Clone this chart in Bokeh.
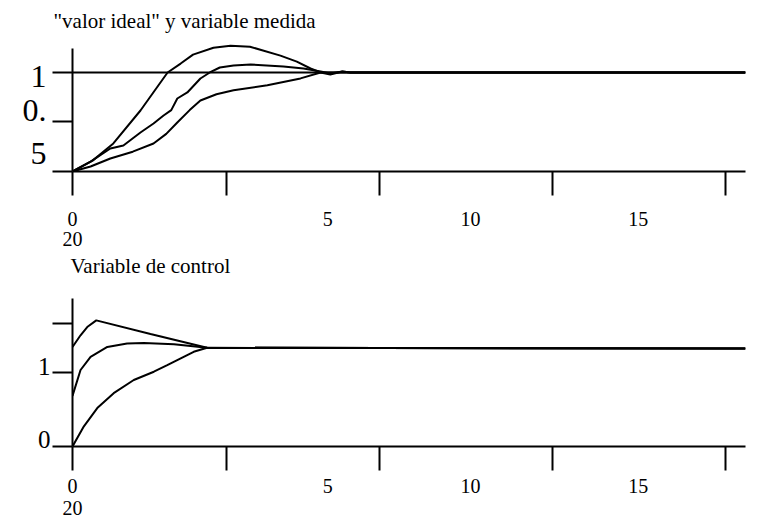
from bokeh.plotting import figure
from bokeh.layouts import column
from bokeh.models import FixedTicker, Range1d, Title
from bokeh.embed import file_html
from bokeh.resources import INLINE

FONT = "Liberation Serif"

# ---------------- data: top panel ("valor ideal" y variable medida) ----------------
ideal_t = [0, 20.1]
ideal_y = [1, 1]

meas_fast_t = [0, 0.6, 1.22, 2.03, 2.84, 3.23, 3.6, 4.21, 4.72, 5.3, 6.21, 6.7, 7.11, 7.41, 7.7, 8.06, 8.3, 20.1]
meas_fast_y = [0, 0.11, 0.283, 0.616, 1.0, 1.09, 1.18, 1.25, 1.27, 1.26, 1.17, 1.11, 1.04, 1.0, 0.98, 1.01, 1.0, 1.0]

meas_mid_t = [0, 0.54, 1.13, 1.52, 2.03, 2.42, 2.72, 2.95, 3.13, 3.43, 3.82, 4.1, 4.4, 4.81, 5.32, 6.3, 6.9, 7.41, 7.7, 8.06, 8.3, 20.1]
meas_mid_y = [0, 0.1, 0.232, 0.263, 0.394, 0.485, 0.566, 0.62, 0.737, 0.798, 0.939, 1.0, 1.05, 1.07, 1.08, 1.06, 1.04, 1.01, 0.99, 1.01, 1.0, 1.0]

meas_slow_t = [0, 0.54, 1.13, 1.8, 2.42, 2.8, 3.13, 3.5, 3.82, 4.3, 4.81, 5.82, 6.81, 7.41, 20.1]
meas_slow_y = [0, 0.05, 0.131, 0.2, 0.283, 0.38, 0.495, 0.62, 0.717, 0.78, 0.82, 0.87, 0.94, 1.0, 1.0]

top_ticks_y = [0, 0.5, 1]
top_label_pos_y = [0.407, 0.96]
top_labels_y = ["0.\n5", "1"]

# ---------------- data: bottom panel (Variable de control) ----------------
ctrl_fast_t = [0, 0.24, 0.44, 0.71, 2.33, 4.02, 20.1]
ctrl_fast_y = [1.337, 1.493, 1.604, 1.693, 1.51, 1.325, 1.315]

ctrl_mid_t = [0, 0.24, 0.54, 1.04, 1.63, 2.13, 3.03, 4.02, 20.1]
ctrl_mid_y = [0.68, 1.027, 1.204, 1.337, 1.383, 1.391, 1.373, 1.325, 1.315]

ctrl_slow_t = [0, 0.34, 0.74, 1.23, 1.83, 2.43, 2.83, 3.62, 4.02, 20.1]
ctrl_slow_y = [0, 0.271, 0.516, 0.716, 0.893, 1.004, 1.093, 1.271, 1.325, 1.315]

bot_ticks_y = [0, 1, 1.647]
bot_label_pos_y = [0.094, 1.08]
bot_labels_y = ["0", "1"]

# ---------------- shared x axis ----------------
x_ticks = [0, 4.6, 9.16, 14.33, 19.49]
x_label_pos = [0, 7.62, 11.89, 16.9]
x_labels = ["0\n20", "5", "10", "15"]

top_title = '"valor ideal" y variable medida'
bottom_title = "Variable de control"


def style_axes(p, yticks, ylabpos, ylabs, yfont, ystand, ytickout, xtickout, xstand, xlh):
    p.grid.visible = False
    p.outline_line_color = None
    p.background_fill_color = "white"
    p.border_fill_color = "white"

    xa = p.xaxis[0]
    xa.ticker = FixedTicker(ticks=x_label_pos, minor_ticks=x_ticks)
    xa.major_label_overrides = dict(zip(x_label_pos, x_labels))
    xa.axis_line_width = 2
    xa.axis_line_color = "black"
    xa.major_tick_line_color = None
    xa.major_tick_out = xtickout
    xa.major_tick_in = 0
    xa.minor_tick_line_color = "black"
    xa.minor_tick_line_width = 2
    xa.minor_tick_out = xtickout
    xa.minor_tick_in = 0
    xa.major_label_text_font = FONT
    xa.major_label_text_font_size = "20px"
    xa.major_label_text_color = "black"
    xa.major_label_text_align = "left"
    xa.major_label_text_line_height = xlh
    xa.major_label_standoff = xstand

    ya = p.yaxis[0]
    ya.ticker = FixedTicker(ticks=ylabpos, minor_ticks=yticks)
    ya.major_label_overrides = dict(zip(ylabpos, ylabs))
    ya.axis_line_width = 2
    ya.axis_line_color = "black"
    ya.major_tick_line_color = None
    ya.major_tick_out = ytickout
    ya.major_tick_in = 0
    ya.minor_tick_line_color = "black"
    ya.minor_tick_line_width = 2
    ya.minor_tick_out = ytickout
    ya.minor_tick_in = 0
    ya.major_label_text_font = FONT
    ya.major_label_text_font_size = yfont
    ya.major_label_text_color = "black"
    ya.major_label_standoff = ystand


def style_title(t, offset, standoff):
    t.text_font = FONT
    t.text_font_size = "21px"
    t.text_font_style = "normal"
    t.text_color = "black"
    t.align = "left"
    t.offset = offset
    t.standoff = standoff


# ---------------- top figure ----------------
p1 = figure(width=762, height=281, x_range=Range1d(0, 20.1), y_range=Range1d(0, 1.343),
            output_backend="svg", toolbar_location=None,
            min_border_left=72, min_border_right=17, min_border_top=38, min_border_bottom=110)
p1.title.text = top_title
style_title(p1.title, -19, 11)
style_axes(p1, top_ticks_y, top_label_pos_y, top_labels_y, "32px", 6, 20, 24, 12, 0.92)
p1.yaxis[0].bounds = (0, 1.24)

for t, y in [(ideal_t, ideal_y), (meas_fast_t, meas_fast_y), (meas_mid_t, meas_mid_y), (meas_slow_t, meas_slow_y)]:
    p1.line(t, y, line_color="black", line_width=2)

# heading of the control-variable panel, placed in the gap between the panels
sub = Title(text=bottom_title, vertical_align="top")
style_title(sub, -2, 3)
p1.add_layout(sub, "below")

# ---------------- bottom figure ----------------
p2 = figure(width=762, height=241, x_range=Range1d(0, 20.1), y_range=Range1d(0, 1.987),
            output_backend="svg", toolbar_location=None,
            min_border_left=72, min_border_right=17, min_border_top=17, min_border_bottom=76)
style_axes(p2, bot_ticks_y, bot_label_pos_y, bot_labels_y, "25px", 2, 20, 24, 4, 1.0)

for t, y in [(ctrl_fast_t, ctrl_fast_y), (ctrl_mid_t, ctrl_mid_y), (ctrl_slow_t, ctrl_slow_y)]:
    p2.line(t, y, line_color="black", line_width=2)

layout = column(p1, p2, spacing=0)
open("out.html", "w").write(file_html(layout, INLINE))
